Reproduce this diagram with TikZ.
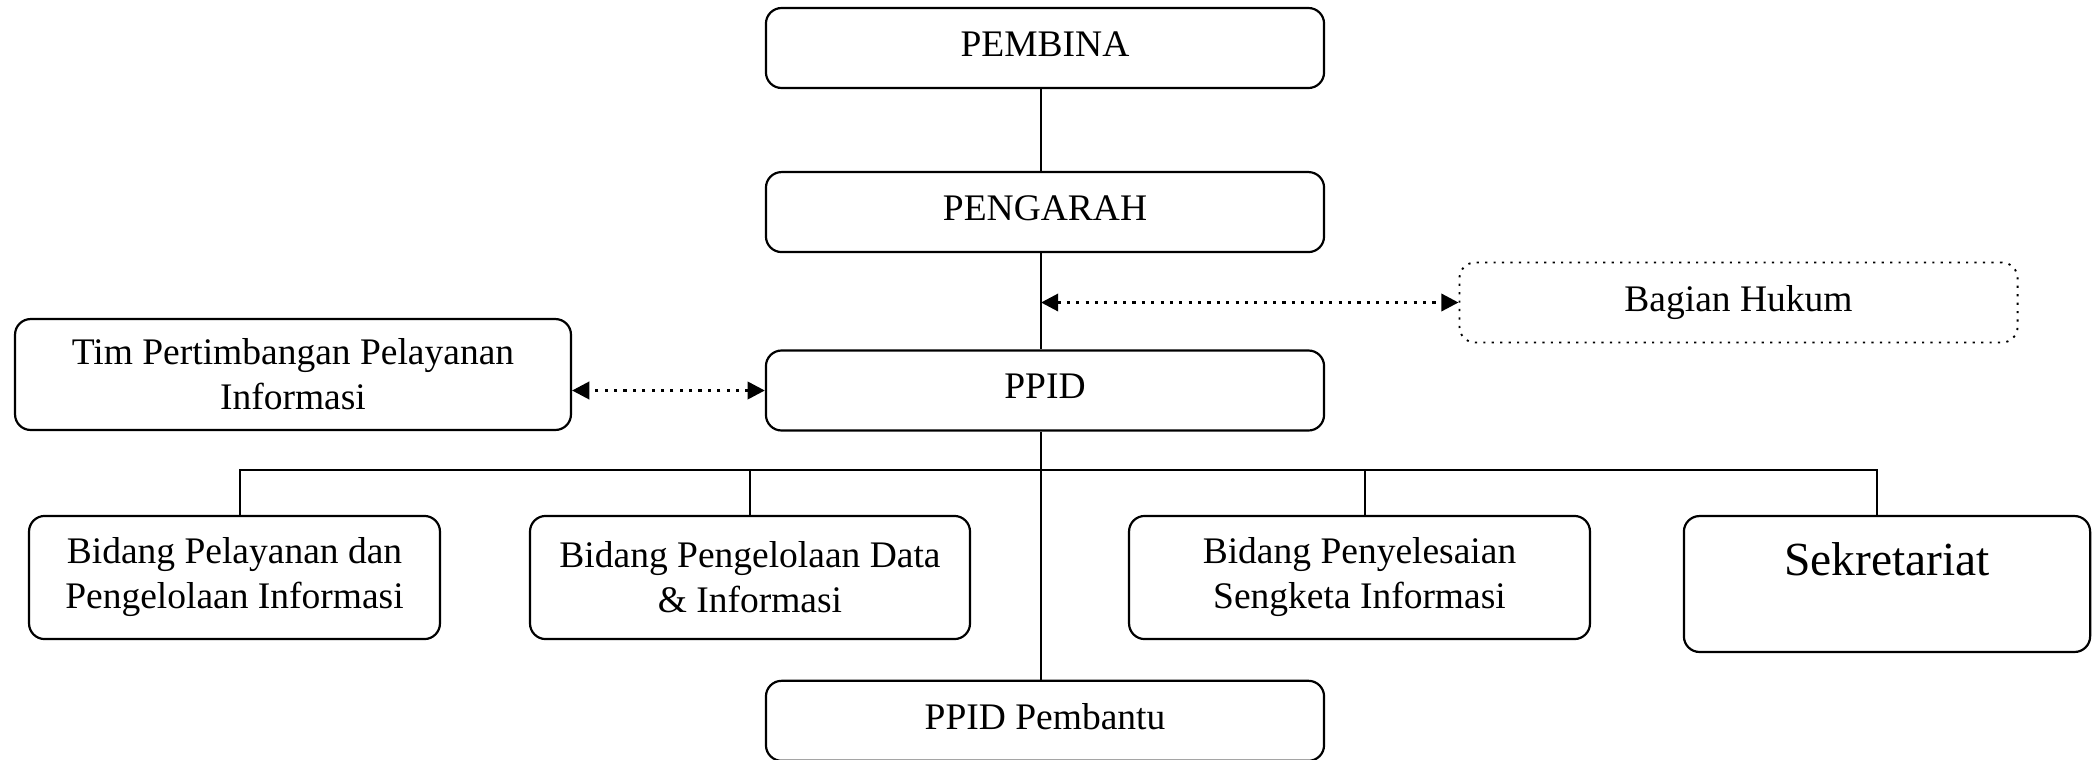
\documentclass[tikz,border=0pt]{standalone}
\usepackage{fontspec}
\setmainfont{Liberation Serif}
\usetikzlibrary{arrows.meta,positioning}

\tikzset{
  box/.style={draw, rounded corners=5pt, line width=0.7pt, align=center,
    font=\fontsize{12}{14.4}\selectfont, inner sep=2pt,
    minimum width=178.6pt, minimum height=25.6pt},
  head/.style={box, text depth=2.6pt},
  dotbox/.style={box, dotted, line width=0.6pt},
  unit/.style={box, minimum height=39.4pt},
  line/.style={line width=0.7pt},
  link/.style={{Triangle[length=5.5pt,width=5.5pt]}-{Triangle[length=5.5pt,width=5.5pt]},
    dotted, line width=1pt}
}

\begin{document}
\begin{tikzpicture}[x=0.32pt, y=-0.32pt]
      \useasboundingbox (0,0) rectangle (2092,759);
      % Define nodes
      \node[head]                          (pembina)  at (1045,48) {PEMBINA};
      \node[head, below=26.2pt of pembina]  (pengarah) {PENGARAH};
      \node[head, below=30.8pt of pengarah] (ppid)     {PPID};
      \node[head, below=79.4pt of ppid]     (pembantu) {PPID Pembantu};
      \node[dotbox]                        (hukum)    at (1738.5,302.5) {Bagian Hukum};
      \node[box, minimum width=177.9pt, minimum height=35.5pt] (tim) at (293,374.5)
            {Tim Pertimbangan Pelayanan\\Informasi};
      \node[unit, minimum width=131.5pt] (pelayanan) at (234.5,577.5)
            {Bidang Pelayanan dan\\Pengelolaan Informasi};
      \node[unit, minimum width=140.8pt] (data)      at (750,577.5)
            {Bidang Pengelolaan Data\\\& Informasi};
      \node[unit, minimum width=147.5pt] (sengketa)  at (1359.5,577.5)
            {Bidang Penyelesaian\\Sengketa Informasi};
      \node[unit, minimum width=130pt, minimum height=43.5pt, text depth=16pt,
            font=\fontsize{15.2}{18}\selectfont] (sekretariat) at (1887,584) {Sekretariat};
      \coordinate (bus) at (1041,470);
      % Connect nodes
      \draw[line] (pembina.south -| bus) -- (pengarah.north -| bus);
      \draw[line] (pengarah.south -| bus) -- (ppid.north -| bus);
      \draw[line] (ppid.south -| bus) -- (pembantu.north -| bus);
      \draw[line] ([xshift=1.76pt]pelayanan.north) |- (bus) -| ([xshift=-3.2pt]sekretariat.north);
      \draw[line] (data.north) -- (data.north |- bus);
      \draw[line] ([xshift=1.76pt]sengketa.north) -- ([xshift=1.76pt]sengketa.north |- bus);
      \draw[link] (ppid.west) -- (ppid.west -| tim.east);
      \draw[link] (bus |- hukum.west) -- (hukum.west);
    \end{tikzpicture}
\end{document}
